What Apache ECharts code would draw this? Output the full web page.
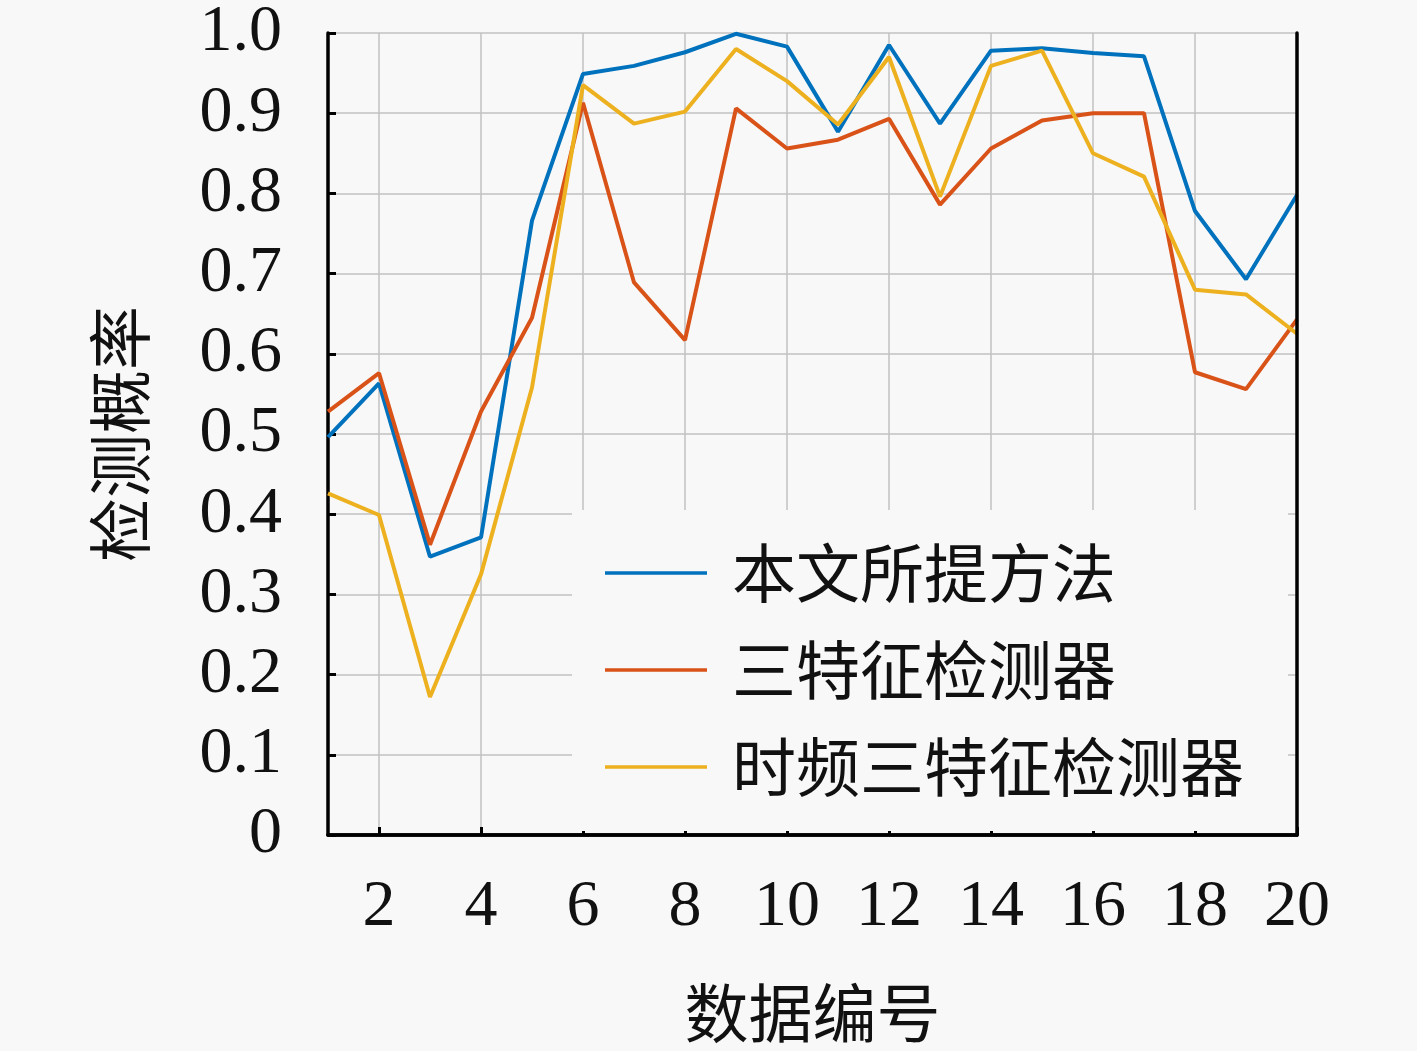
<!DOCTYPE html>
<html><head><meta charset="utf-8">
<script src="https://cdn.jsdelivr.net/npm/echarts@6/dist/echarts.min.js"></script>
<style>html,body{margin:0;padding:0;background:#f8f8f8;}#c{width:1417px;height:1051px;}</style>
</head><body><div id="c"></div>
<script>
const categories = ['1','2','3','4','5','6','7','8','9','10','11','12','13','14','15','16','17','18','19','20'];
const seriesNames = ['本文所提方法','三特征检测器','时频三特征检测器'];
const proposed = [0.496,0.563,0.347,0.371,0.766,0.949,0.959,0.976,0.999,0.983,0.877,0.985,0.887,0.978,0.981,0.975,0.971,0.778,0.693,0.798];
const threeFeature = [0.528,0.576,0.362,0.528,0.645,0.913,0.689,0.617,0.906,0.856,0.867,0.893,0.786,0.856,0.891,0.900,0.900,0.577,0.556,0.643];
const tfThreeFeature = [0.426,0.399,0.172,0.325,0.558,0.935,0.887,0.902,0.980,0.940,0.886,0.970,0.796,0.959,0.978,0.850,0.821,0.680,0.674,0.625];
const colors = ['#0072BD','#D95319','#EDB120'];
const serif = '"Liberation Serif", "DejaVu Serif", serif';
const cjk = '"Noto Sans CJK SC", sans-serif';
const evenOnly = (i) => i % 2 === 1;
const frameLine = { show: true, lineStyle: { color: '#000', width: 3.5 } };

const chart = echarts.init(document.getElementById('c'));
chart.setOption({
  backgroundColor: '#f8f8f8',
  animation: false,
  color: colors,
  grid: { left: 328, right: 120, top: 29, bottom: 216 },
  legend: {
    left: 572, top: 510,
    orient: 'vertical',
    icon: 'rect', itemWidth: 102, itemHeight: 3.5, itemGap: 33,
    padding: [31, 44, 32, 33],
    backgroundColor: '#f8f8f8',
    textStyle: { fontFamily: cjk, fontSize: 64, lineHeight: 64, color: '#111', padding: [0,0,0,20] },
    data: seriesNames
  },
  xAxis: [{
    type: 'category', data: categories, boundaryGap: false,
    name: '数据编号', nameLocation: 'middle', nameGap: 146,
    nameTextStyle: { fontFamily: cjk, fontSize: 64, color: '#111' },
    axisLine: frameLine,
    axisTick: { show: true, inside: true, length: 8, interval: evenOnly, lineStyle: { color: '#000', width: 3 } },
    axisLabel: { interval: evenOnly, margin: 40, fontFamily: serif, fontSize: 66, color: '#111' },
    splitLine: { show: true, interval: evenOnly, lineStyle: { color: '#c2c2c2', width: 1.5 } }
  }, {
    type: 'category', data: categories, boundaryGap: false, position: 'top', z: 10,
    axisLine: frameLine, axisTick: { show: false }, axisLabel: { show: false }, splitLine: { show: false }
  }],
  yAxis: [{
    type: 'value', min: 0, max: 1, interval: 0.1,
    name: '检测概率', nameLocation: 'middle', nameGap: 176, nameRotate: 90,
    nameTextStyle: { fontFamily: cjk, fontSize: 64, color: '#111' },
    axisLine: frameLine,
    axisTick: { show: true, inside: true, length: 8, lineStyle: { color: '#000', width: 3 } },
    axisLabel: { margin: 46, fontFamily: serif, fontSize: 66, color: '#111',
      formatter: (v) => v === 0 ? '0' : v.toFixed(1) },
    splitLine: { show: true, lineStyle: { color: '#c2c2c2', width: 1.5 } }
  }, {
    type: 'value', min: 0, max: 1, interval: 0.1, position: 'right', z: 10,
    axisLine: frameLine, axisTick: { show: false }, axisLabel: { show: false }, splitLine: { show: false }
  }],
  series: [
    { name: seriesNames[0], type: 'line', data: proposed, symbol: 'none', lineStyle: { width: 4, color: colors[0] }, z: 3 },
    { name: seriesNames[1], type: 'line', data: threeFeature, symbol: 'none', lineStyle: { width: 4, color: colors[1] }, z: 4 },
    { name: seriesNames[2], type: 'line', data: tfThreeFeature, symbol: 'none', lineStyle: { width: 4, color: colors[2] }, z: 5 }
  ]
});
</script></body></html>
